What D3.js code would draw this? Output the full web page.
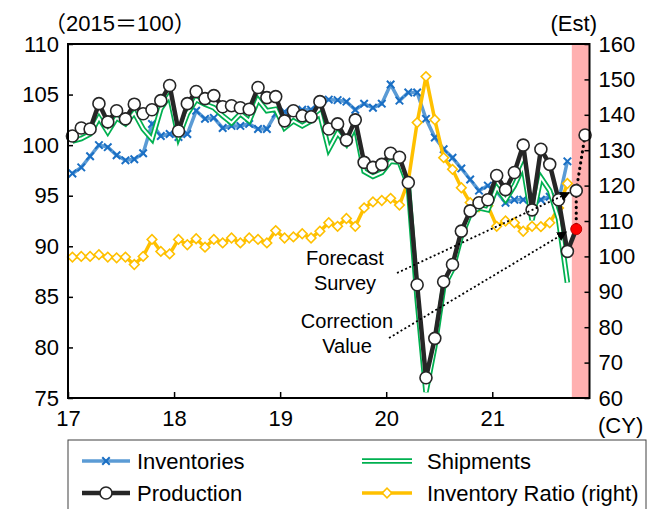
<!DOCTYPE html>
<html><head><meta charset="utf-8">
<script src="https://cdn.jsdelivr.net/npm/d3@7"></script>
<style>body{margin:0;background:#fff}svg{display:block;font-family:"Liberation Sans",Arial,"Noto Sans CJK JP",sans-serif}</style>
</head><body><svg id="c" width="649" height="509"></svg>
<script>
// Monthly data, Jan 2017 ... Sep 2021 (index 0..56); forecast Oct/Nov 2021
const yearLabels = ["17","18","19","20","21"];
const production = [100.9,101.7,101.6,104.1,102.3,103.4,102.6,104.05,103.1,103.5,104.4,105.9,
  101.4,104.1,105.3,104.6,104.9,103.8,103.9,103.7,103.55,105.7,104.7,104.8,
  102.4,103.4,102.9,102.8,104.3,101.6,102.1,100.5,102.5,98.3,97.8,98.1,
  99.2,98.8,96.3,86.2,77.0,80.9,86.5,88.2,91.5,93.5,94.3,94.6,
  97.0,95.6,97.3,100.0,93.6,99.6,98.1,94.6,89.5];
const shipments = [100.4,100.65,101.1,102.7,101.3,102.7,102.1,103.2,101.6,100.6,103.6,104.9,
  100.8,103.1,104.5,104.05,103.7,102.9,102.2,103.1,102.4,104.5,103.4,103.55,
  101.7,102.4,101.9,102.4,103.1,99.6,101.2,100.1,101.9,97.4,96.9,97.3,
  98.4,98.3,96.0,84.8,75.6,80.1,86.0,87.7,91.0,93.2,93.8,93.6,
  95.8,94.6,96.0,97.9,92.6,96.8,95.5,92.7,86.4];
const inventories = [97.2,97.8,98.9,100.0,99.8,99.0,98.5,98.6,99.2,102.1,100.9,101.1,
  100.8,101.1,103.4,102.6,102.7,101.7,101.9,101.9,102.1,101.6,101.6,103.1,
  103.3,103.4,103.5,103.5,104.2,104.5,104.45,104.3,103.5,104.1,103.7,104.1,
  106.0,104.4,105.2,105.2,102.6,100.75,99.6,98.75,97.7,96.6,95.5,96.0,
  95.4,94.3,94.6,94.6,95.0,94.6,94.9,94.5,98.4];
const inventoryRatio = [99.8,100.0,100.0,100.5,99.8,99.6,99.8,97.7,100.0,104.8,101.4,100.7,
  104.8,103.3,105.0,102.6,104.8,103.8,105.2,103.8,105.2,104.8,103.8,107.3,
  105.2,105.5,106.4,105.2,107.1,109.5,108.5,110.7,108.5,113.7,115.4,115.8,
  116.4,114.5,121.3,137.8,150.8,138.6,127.9,124.6,119.4,115.2,114.0,114.3,
  108.5,110.0,109.5,107.1,108.5,108.4,109.5,113.7,120.6];
const forecastSurvey = [95.5, 101.0];   // Oct, Nov 2021
const correctionValue = [91.7];          // Oct 2021
const leftTicks = [75,80,85,90,95,100,105,110];
const rightTicks = [60,70,80,90,100,110,120,130,140,150,160];
const nMonths = 59, estStart = 57;

const svg = d3.select("#c");
const M = {left:68, right:589.5, top:44, bottom:398};
const x = d3.scaleLinear().domain([0,nMonths]).range([M.left,M.right]);
const xc = i => x(i+0.5);
const yL = d3.scaleLinear().domain([75,110]).range([M.bottom,M.top]);
const yR = d3.scaleLinear().domain([60,160]).range([M.bottom,M.top]);
const FS = 22, FA = 20;

// estimate shading
svg.append("rect").attr("x",x(estStart)).attr("y",M.top).attr("width",x(nMonths)-x(estStart))
  .attr("height",M.bottom-M.top).attr("fill","#ffb0b0");

// axes
const gl = svg.append("g").attr("transform",`translate(${M.left},0)`)
  .call(d3.axisLeft(yL).tickValues(leftTicks).tickSizeInner(-5).tickSizeOuter(0).tickPadding(9));
const gr = svg.append("g").attr("transform",`translate(${M.right},0)`)
  .call(d3.axisRight(yR).tickValues(rightTicks).tickSizeInner(-5).tickSizeOuter(0).tickPadding(9));
const gb = svg.append("g").attr("transform",`translate(0,${M.bottom})`)
  .call(d3.axisBottom(x).tickValues([0,12,24,36,48]).tickFormat((d,i)=>yearLabels[i]).tickSizeInner(-6).tickSizeOuter(0).tickPadding(12));
[gl,gr,gb].forEach(g=>{g.select(".domain").remove();
  g.selectAll("line").attr("stroke","#000").attr("stroke-width",1.5);
  g.selectAll("text").attr("font-size",FS).attr("font-family","Liberation Sans, Arial").attr("fill","#000");});

const line = (ys, scale) => d3.line().x((d,i)=>xc(i)).y(d=>scale(d))(ys);

// inventories
svg.append("path").attr("d",line(inventories,yL)).attr("fill","none").attr("stroke","#5b9bd5").attr("stroke-width",3.5);
svg.append("g").selectAll("path").data(inventories).join("path")
  .attr("transform",(d,i)=>`translate(${xc(i)},${yL(d)})`)
  .attr("d",d3.symbol(d3.symbolX,38)).attr("fill","none").attr("stroke","#1a6fc4").attr("stroke-width",2);

// inventory ratio
svg.append("path").attr("d",line(inventoryRatio,yR)).attr("fill","none").attr("stroke","#ffc000").attr("stroke-width",3.5);
svg.append("g").selectAll("path").data(inventoryRatio).join("path")
  .attr("transform",(d,i)=>`translate(${xc(i)},${yR(d)}) rotate(45)`)
  .attr("d",d3.symbol(d3.symbolSquare,46)).attr("fill","#fff").attr("stroke","#ffc000").attr("stroke-width",1.6);

// shipments (double line)
svg.append("path").attr("d",line(shipments,yL)).attr("fill","none").attr("stroke","#00b050").attr("stroke-width",5.5).attr("stroke-linejoin","miter");
svg.append("path").attr("d",line(shipments,yL)).attr("fill","none").attr("stroke","#fff").attr("stroke-width",2).attr("stroke-linejoin","miter");

// production
svg.append("path").attr("d",line(production,yL)).attr("fill","none").attr("stroke","#262626").attr("stroke-width",4.5);
const last = production.length-1;
svg.append("path").attr("d",d3.line()([[xc(last),yL(production[last])],[xc(estStart),yL(correctionValue[0])]]))
  .attr("stroke","#262626").attr("stroke-width",4.5);
const dot = svg.append("g").attr("fill","none").attr("stroke","#000").attr("stroke-width",3.2)
  .attr("stroke-dasharray","0.1,5.5").attr("stroke-linecap","round");
dot.append("path").attr("d",d3.line()(forecastSurvey.map((v,k)=>[xc(estStart+k),yL(v)])));
dot.append("path").attr("d",d3.line()([[xc(estStart),yL(forecastSurvey[0])],[xc(estStart),yL(correctionValue[0])]]));

svg.append("g").selectAll("circle").data(production).join("circle")
  .attr("cx",(d,i)=>xc(i)).attr("cy",d=>yL(d)).attr("r",6).attr("fill","#fff").attr("stroke","#262626").attr("stroke-width",1.6);
svg.append("g").selectAll("circle").data(forecastSurvey).join("circle")
  .attr("cx",(d,i)=>xc(estStart+i)).attr("cy",d=>yL(d)).attr("r",6).attr("fill","#fff").attr("stroke","#262626").attr("stroke-width",1.6);
svg.append("g").selectAll("circle").data(correctionValue).join("circle")
  .attr("cx",(d,i)=>xc(estStart+i)).attr("cy",d=>yL(d)).attr("r",5.5).attr("fill","#ff0000").attr("stroke","#c00000").attr("stroke-width",1);

// annotation arrows
svg.append("defs").append("marker").attr("id","ah").attr("viewBox","0 0 10 10").attr("refX",9).attr("refY",5)
  .attr("markerWidth",10).attr("markerHeight",10).attr("markerUnits","userSpaceOnUse").attr("orient","auto")
  .append("path").attr("d","M0,0L10,5L0,10Z").attr("fill","#000");
const ann = svg.append("g").attr("fill","none").attr("stroke","#000").attr("stroke-width",1.8).attr("stroke-dasharray","2,2.5");
ann.append("path").attr("d",d3.line()([[397,273],[xc(estStart)-7,yL(forecastSurvey[0])+2]])).attr("marker-end","url(#ah)");
ann.append("path").attr("d",d3.line()([[389,338],[xc(estStart)-10,yL(correctionValue[0])+3]])).attr("marker-end","url(#ah)");
const at = svg.append("g").attr("font-size",FA).attr("text-anchor","middle").attr("fill","#000");
at.append("text").attr("x",345).attr("y",265).text("Forecast");
at.append("text").attr("x",345).attr("y",290).text("Survey");
at.append("text").attr("x",347).attr("y",328).text("Correction");
at.append("text").attr("x",347).attr("y",353).text("Value");

// frame
svg.append("rect").attr("x",M.left).attr("y",M.top).attr("width",M.right-M.left).attr("height",M.bottom-M.top)
  .attr("fill","none").attr("stroke","#000").attr("stroke-width",2);

// header texts
svg.append("text").attr("x",44).attr("y",31).attr("font-size",FS).text("（2015＝100）");
svg.append("text").attr("x",597).attr("y",31).attr("font-size",FS).attr("text-anchor","end").text("(Est)");
svg.append("text").attr("x",598).attr("y",433).attr("font-size",FS).text("(CY)");

// legend
svg.append("rect").attr("x",68).attr("y",440).attr("width",578).attr("height",90).attr("fill","none").attr("stroke","#404040").attr("stroke-width",1);
const lg = svg.append("g").attr("font-size",FS);
const r1 = 461, r2 = 493;
lg.append("line").attr("x1",82).attr("x2",130).attr("y1",r1).attr("y2",r1).attr("stroke","#5b9bd5").attr("stroke-width",3.5);
lg.append("path").attr("transform",`translate(106,${r1})`).attr("d",d3.symbol(d3.symbolX,38)).attr("fill","none").attr("stroke","#1a6fc4").attr("stroke-width",2);
lg.append("text").attr("x",137).attr("y",r1+8).text("Inventories");
lg.append("line").attr("x1",362).attr("x2",412).attr("y1",r1).attr("y2",r1).attr("stroke","#00b050").attr("stroke-width",5.5);
lg.append("line").attr("x1",362).attr("x2",412).attr("y1",r1).attr("y2",r1).attr("stroke","#fff").attr("stroke-width",2);
lg.append("text").attr("x",427).attr("y",r1+8).text("Shipments");
lg.append("line").attr("x1",82).attr("x2",130).attr("y1",r2).attr("y2",r2).attr("stroke","#262626").attr("stroke-width",4.5);
lg.append("circle").attr("cx",106).attr("cy",r2).attr("r",6).attr("fill","#fff").attr("stroke","#262626").attr("stroke-width",1.6);
lg.append("text").attr("x",137).attr("y",r2+8).text("Production");
lg.append("line").attr("x1",362).attr("x2",412).attr("y1",r2).attr("y2",r2).attr("stroke","#ffc000").attr("stroke-width",3.5);
lg.append("path").attr("transform",`translate(387,${r2}) rotate(45)`).attr("d",d3.symbol(d3.symbolSquare,46)).attr("fill","#fff").attr("stroke","#ffc000").attr("stroke-width",1.6);
lg.append("text").attr("x",427).attr("y",r2+8).text("Inventory Ratio (right)");
</script></body></html>
